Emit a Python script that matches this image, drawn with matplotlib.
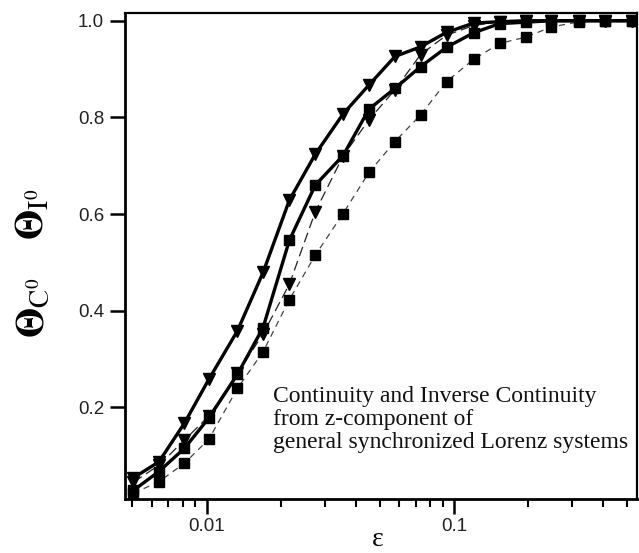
import matplotlib
matplotlib.use("Agg")
import matplotlib.pyplot as plt
from matplotlib.ticker import FixedLocator, LogLocator, NullFormatter, FixedFormatter

eps = [0.00505, 0.0064, 0.00812, 0.0102, 0.0133, 0.0169, 0.0216, 0.0275, 0.0356, 0.0453,
       0.0577, 0.0733, 0.0933, 0.120, 0.153, 0.195, 0.248, 0.321, 0.410, 0.524]

theta_I_tri = [0.054, 0.087, 0.167, 0.258, 0.358, 0.479, 0.629, 0.724, 0.807, 0.867,
               0.926, 0.946, 0.976, 0.995, 0.998, 1.0, 1.0, 1.0, 1.0, 1.0]
theta_C_sq = [0.028, 0.067, 0.115, 0.178, 0.268, 0.365, 0.546, 0.660, 0.721, 0.817,
              0.860, 0.905, 0.945, 0.975, 0.994, 0.997, 1.0, 1.0, 1.0, 1.0]
dashed_tri = [0.045, 0.080, 0.132, 0.182, 0.270, 0.352, 0.455, 0.605, 0.720, 0.795,
              0.857, 0.930, 0.970, 0.990, 0.998, 1.0, 1.0, 1.0, 1.0, 1.0]
dashed_sq = [0.022, 0.046, 0.084, 0.134, 0.239, 0.315, 0.423, 0.515, 0.601, 0.686,
             0.750, 0.805, 0.874, 0.920, 0.953, 0.966, 0.987, 0.998, 1.0, 1.0]

xticks = [0.01, 0.1]
xticklabels = ["0.01", "0.1"]
yticks = [0.2, 0.4, 0.6, 0.8, 1.0]
yticklabels = ["0.2", "0.4", "0.6", "0.8", "1.0"]

plt.rcParams["mathtext.fontset"] = "stix"

fig = plt.figure(figsize=(6.39, 5.53), dpi=100)
ax = fig.add_axes([125/639, 54/553, 512/639, 486/553])

ax.plot(eps, dashed_sq, color="#444444", lw=0.9, ls=(0, (5, 4)), marker="s", ms=7,
        mfc="black", mec="black")
ax.plot(eps, dashed_tri, color="#222222", lw=0.9, ls=(0, (8, 4)), marker="v", ms=9,
        mfc="black", mec="black")
ax.plot(eps, theta_C_sq, color="black", lw=2.4, marker="s", ms=7, mfc="black", mec="black")
ax.plot(eps, theta_I_tri, color="black", lw=2.4, marker="v", ms=9, mfc="black", mec="black")

ax.set_xscale("log")
ax.set_xlim(0.00467, 0.55)
ax.set_ylim(0.0102, 1.016)

ax.xaxis.set_major_locator(FixedLocator(xticks))
ax.xaxis.set_major_formatter(FixedFormatter(xticklabels))
ax.xaxis.set_minor_locator(LogLocator(base=10, subs=range(2, 10)))
ax.xaxis.set_minor_formatter(NullFormatter())
ax.yaxis.set_major_locator(FixedLocator(yticks))
ax.yaxis.set_major_formatter(FixedFormatter(yticklabels))

ax.tick_params(axis="both", which="major", direction="out", length=11, width=1.8,
               labelsize=13.5, colors="black", labelcolor="#222222")
ax.tick_params(axis="x", which="minor", direction="out", length=6, width=1.5)
ax.tick_params(axis="y", pad=4)
ax.tick_params(axis="x", pad=3)
for lab in ax.get_xticklabels() + ax.get_yticklabels():
    lab.set_family("Liberation Sans")

for s in ["left", "bottom"]:
    ax.spines[s].set_linewidth(2.0)
for s in ["top", "right"]:
    ax.spines[s].set_linewidth(1.6)

ax.text(0.29, 0.163,
        "Continuity and Inverse Continuity\nfrom z-component of\ngeneral synchronized Lorenz systems",
        transform=ax.transAxes, family="Liberation Serif", fontsize=17,
        va="center", ha="left", linespacing=1.12, color="#111111")

fig.text(378/639, 1 - 546/553, "ε", family="Liberation Serif", fontsize=20,
         ha="center", va="baseline")
fig.text(33/639, 1 - 338/553, r"$\mathbf{\Theta}_{\mathrm{C}^0}$",
         fontsize=28, rotation=90, ha="center", va="bottom")
fig.text(33/639, 1 - 240/553, r"$\mathbf{\Theta}_{\mathrm{I}^0}$",
         fontsize=28, rotation=90, ha="center", va="bottom")

fig.savefig("out.png", dpi=100)
